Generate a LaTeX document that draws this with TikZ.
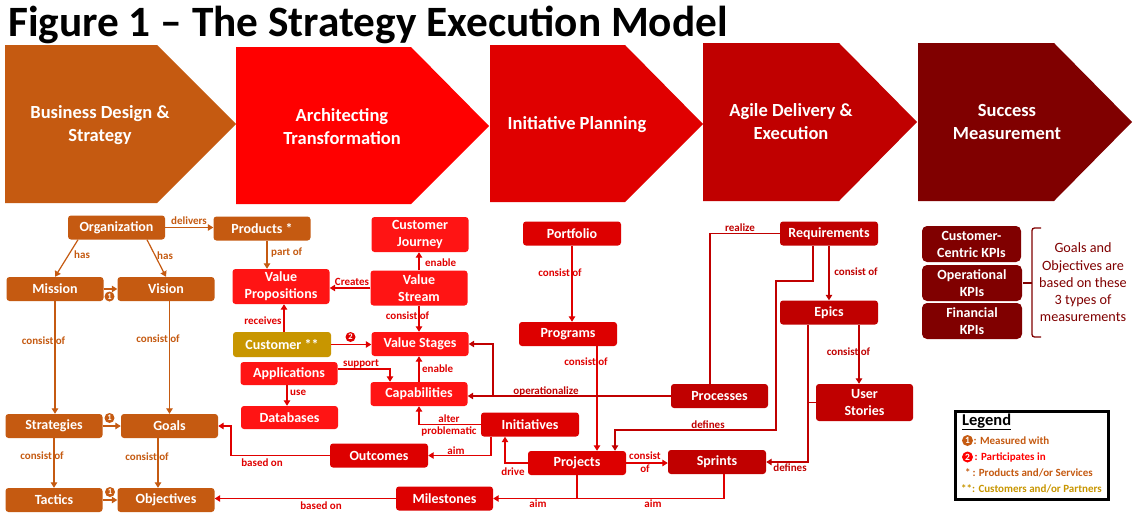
\documentclass[tikz,border=0pt]{standalone}
\usepackage{fontspec}
\setmainfont{Carlito}
\usetikzlibrary{arrows.meta,calc}
\definecolor{cBrown}{HTML}{C55A11}
\definecolor{cRedA}{HTML}{FF1414}
\definecolor{cRedB}{HTML}{DD0000}
\definecolor{cRedC}{HTML}{C00000}
\definecolor{cMaroon}{HTML}{800000}
\definecolor{cGold}{HTML}{C89600}
\definecolor{cLine}{HTML}{E00000}
\definecolor{cChevA}{HTML}{FF0000}
\definecolor{cChevB}{HTML}{E00000}
\begin{document}
\begin{tikzpicture}[x=1pt,y=-1pt,
  box/.style={rounded corners=3pt, text=white, font=\bfseries\fontsize{14}{17}\selectfont,
    align=center, inner sep=0pt, minimum width=97pt, minimum height=24pt},
  tall/.style={minimum height=35pt},
  chevtext/.style={text=white, font=\bfseries\fontsize{18.5}{23}\selectfont, align=center},
  lbl/.style={font=\bfseries\fontsize{11}{12}\selectfont, inner sep=1pt},
  tip/.style={-{Triangle[width=6.5pt,length=5.5pt]}},
  barr/.style={draw=cBrown, line width=1.2pt, tip},
  rarr/.style={draw=cLine, line width=1.2pt, tip},
  rline/.style={draw=cLine, line width=1.2pt},
  darr/.style={draw=cRedC, line width=1.2pt, tip},
  dline/.style={draw=cRedC, line width=1.2pt},
  badge/.style={circle, inner sep=0pt, minimum size=10pt, text=white,
    font=\bfseries\fontsize{8.5}{9}\selectfont},
  lgtext/.style={anchor=west, inner sep=0pt, font=\bfseries\fontsize{11}{12}\selectfont}
]
% canvas
\path[use as bounding box, fill=white] (0,0) rectangle (1142,522);

% title
\node[anchor=base west, inner sep=0pt, font=\bfseries\fontsize{43.3}{46}\selectfont] (title) at (8,36) {Figure 1 – The Strategy Execution Model};

% chevrons
\fill[cBrown] (5,45) -- (157,45) -- (236,124) -- (157,203) -- (5,203) -- cycle;
\fill[cChevA] (236,47) -- (411,47) -- (489,126) -- (411,204) -- (236,204) -- cycle;
\fill[cChevB] (490,45) -- (625,45) -- (703,124) -- (625,202) -- (490,202) -- cycle;
\fill[cRedC] (703,43) -- (839,43) -- (917,122) -- (839,201) -- (703,201) -- cycle;
\fill[cMaroon] (918,43) -- (1054,43) -- (1132,122) -- (1054,201) -- (918,201) -- cycle;
\node[chevtext] (ch1) at (100,125.5) {Business Design \&\\Strategy};
\node[chevtext] (ch2) at (342,127) {Architecting\\Transformation};
\node[chevtext] (ch3) at (577,124.5) {Initiative Planning};
\node[chevtext] (ch4) at (791,122) {Agile Delivery \&\\Execution};
\node[chevtext] (ch5) at (1007,122) {Success\\Measurement};

% brown boxes
\node[box, fill=cBrown] (org) at (116.5,227.5) {Organization};
\node[box, fill=cBrown] (prod) at (262,228.5) {Products *};
\node[box, fill=cBrown] (mis) at (55,289) {Mission};
\node[box, fill=cBrown] (vis) at (166,289) {Vision};
\node[box, fill=cBrown] (str) at (54,426) {Strategies};
\node[box, fill=cBrown] (goa) at (169.5,426) {Goals};
\node[box, fill=cBrown] (tac) at (54,500) {Tactics};
\node[box, fill=cBrown] (obj) at (166,500) {Objectives};

% bright red boxes
\node[box, tall, fill=cRedA] (vp) at (281,286.5) {Value\\Propositions};
\node[box, tall, fill=cRedA] (cj) at (420,234.5) {Customer\\Journey};
\node[box, tall, fill=cRedA] (vstr) at (419,288) {Value\\Stream};
\node[box, fill=cRedA] (vsg) at (420,344) {Value Stages};
\node[box, fill=cRedA] (cap) at (419,394) {Capabilities};
\node[box, fill=cRedA, minimum height=23pt] (app) at (289,373.5) {Applications};
\node[box, fill=cRedA, minimum height=23pt] (db) at (289.5,417.5) {Databases};
\node[box, fill=cGold, minimum width=98pt, minimum height=25pt] (cust) at (282,344.5) {Customer **};

% initiative planning boxes
\node[box, fill=cRedB, minimum width=98pt] (port) at (572,233.5) {Portfolio};
\node[box, fill=cRedB, minimum width=98pt] (prog) at (568,334) {Programs};
\node[box, fill=cRedB, minimum width=98pt] (ini) at (530,424.5) {Initiatives};
\node[box, fill=cRedB, minimum width=98pt] (proj) at (577,463) {Projects};
\node[box, fill=cRedB, minimum width=98pt] (outc) at (379,455.5) {Outcomes};
\node[box, fill=cRedB] (mil) at (444.5,498.5) {Milestones};

% agile boxes
\node[box, fill=cRedC, minimum width=98pt] (req) at (829,233.5) {Requirements};
\node[box, fill=cRedC, minimum width=98pt] (epi) at (829,312.5) {Epics};
\node[box, fill=cRedC, minimum height=37pt] (us) at (864.5,402.5) {User\\Stories};
\node[box, fill=cRedC] (proc) at (719.5,396) {Processes};
\node[box, fill=cRedC, minimum width=98pt] (spr) at (717,462) {Sprints};

% KPI boxes
\node[box, fill=cMaroon, minimum width=99pt, minimum height=36pt, rounded corners=5pt] (k1) at (971.5,244) {Customer-\\Centric KPIs};
\node[box, fill=cMaroon, minimum width=100pt, minimum height=36pt, rounded corners=5pt] (k2) at (972,283) {Operational\\KPIs};
\node[box, fill=cMaroon, minimum width=100pt, minimum height=36pt, rounded corners=5pt] (k3) at (972,321) {Financial\\KPIs};
\draw[cMaroon, line width=1.3pt, rounded corners=2.5pt] (1041,228) -- (1032,228) -- (1032,337) -- (1041,337);
\coordinate (bracetip) at (1023,283);
\draw[cMaroon, line width=1.3pt] (1032,283) -- (bracetip);
\node[text=cMaroon, align=center, font=\fontsize{14.2}{17.2}\selectfont] (kpinote) at (1083,282.5) {Goals and\\Objectives are\\based on these\\3 types of\\measurements};

% ---- brown connectors
\draw[barr] (org.east) -- (org.east -| prod.west);
\node[lbl, text=cBrown] (l1) at (189,221) {delivers};
\draw[barr] (78,0 |- org.south) -- (mis.north);
\node[lbl, text=cBrown, anchor=west] (l2) at (73,255) {has};
\draw[barr] (147,0 |- org.south) -- (vis.north);
\node[lbl, text=cBrown, anchor=west] (l3) at (156,256) {has};
\draw[barr] (mis.east) -- (vis.west);
\node[badge, fill=cBrown] (b1) at (109.5,296.5) {1};
\draw[barr] (mis.south) -- (mis.south |- str.north);
\node[lbl, text=cBrown] (l4) at (43.5,341) {consist of};
\draw[barr] (goa.north |- vis.south) -- (goa.north);
\node[lbl, text=cBrown] (l5) at (158,339) {consist of};
\draw[barr] (str.east) -- (goa.west);
\node[badge, fill=cBrown] (b2) at (109.5,418) {1};
\draw[barr] (str.south) -- (str.south |- tac.north);
\node[lbl, text=cBrown] (l6) at (42,456) {consist of};
\draw[barr] (158,0 |- goa.south) -- (158,0 |- obj.north);
\node[lbl, text=cBrown] (l7) at (147,457) {consist of};
\draw[barr] (tac.east) -- (obj.west);
\node[badge, fill=cBrown] (b3) at (110,492) {1};
\draw[barr] (267,0 |- prod.south) -- (267,0 |- vp.north);
\node[lbl, text=cBrown, anchor=west] (l8) at (270,253) {part of};

% ---- red connectors (architecture / planning)
\draw[rarr] (284,0 |- cust.north) -- (284,0 |- vp.south);
\node[lbl, text=cLine] (l9) at (263,321) {receives};
\draw[rarr] (vstr.west) -- (vstr.west -| vp.east);
\node[lbl, text=cLine] (l10) at (352,282) {Creates};
\draw[rarr] (vstr.north) -- (vstr.north |- cj.south);
\node[lbl, text=cLine, anchor=west] (l11) at (424,263) {enable};
\draw[rarr] (vstr.south) -- (vstr.south |- vsg.north);
\node[lbl, text=cLine] (l12) at (407.5,316) {consist of};
\draw[rarr] (cust.east) -- (cust.east -| vsg.west);
\node[badge, fill=cLine] (b4) at (350.5,337) {2};
\draw[rarr] (cap.north) -- (cap.north |- vsg.south);
\node[lbl, text=cLine, anchor=west] (l13) at (421,369) {enable};
\draw[rarr] (app.east |- 0,369) -| (390,0 |- cap.north);
\node[lbl, text=cLine] (l14) at (361,364) {support};
\draw[rarr] (287,0 |- app.south) -- (287,0 |- db.north);
\node[lbl, text=cLine, anchor=west] (l15) at (289,393) {use};
\draw[rarr] (ini.west) -| (cap.south);
\node[lbl, text=cLine] (l16) at (449,418.5) {alter};
\node[lbl, text=cLine] (l17) at (449,431.5) {problematic};
\draw[rarr] (491,0 |- ini.south) |- (outc.east);
\node[lbl, text=cLine] (l18) at (456,451) {aim};
\draw[rarr] (outc.west) -| (231,0 |- goa.east) -- (goa.east);
\node[lbl, text=cLine] (l19) at (262,463) {based on};
\draw[rarr] (mil.west) -- (mil.west -| obj.east);
\node[lbl, text=cLine] (l20) at (321,506) {based on};
\draw[rarr] (724,0 |- spr.south) |- (mil.east);
\node[lbl, text=cLine] (l21) at (653,504) {aim};
\draw[rline] (577,0 |- proj.south) -- (577,0 |- mil.east);
\node[lbl, text=cLine] (l22) at (538,504) {aim};
\draw[rarr] (proj.west) -| (505,0 |- ini.south);
\node[lbl, text=cLine] (l23) at (513,472) {drive};
\draw[rarr] (port.south) -- (port.south |- prog.north);
\node[lbl, text=cLine] (l24) at (560,273) {consist of};
\draw[rarr] (597,0 |- prog.south) -- (597,0 |- proj.north);
\node[lbl, text=cLine] (l25) at (586,362) {consist of};
\draw[rarr] (proj.east) -- (proj.east -| spr.west);
\node[lbl, text=cLine] (l26) at (645,456) {consist};
\node[lbl, text=cLine] (l27) at (645,468.5) {of};

% ---- dark red connectors (agile)
\draw[darr] (proc.west) -- (proc.west -| cap.east);
\node[lbl, text=cRedC] (l28) at (546,391) {operationalize};
\draw[darr] (493,0 |- proc.west) |- (vsg.east);
\draw[dline] (req.west) -| (710,0 |- proc.north);
\node[lbl, text=cRedC] (l29) at (740,228) {realize};
\coordinate (d1) at (813,281);
\coordinate (d2) at (776,281);
\coordinate (d3) at (776,430);
\draw[darr] (813,0 |- req.south) -- (d1) -- (d2) -- (d3) -| (615,0 |- proj.north);
\node[lbl, text=cRedC] (l30) at (708,424.5) {defines};
\draw[darr] (req.south) -- (req.south |- epi.north);
\node[lbl, text=cRedC] (l31) at (856,272) {consist of};
\draw[darr] (859,0 |- epi.south) -- (859,0 |- us.north);
\node[lbl, text=cRedC] (l32) at (848.5,352) {consist of};
\draw[darr] (808,0 |- epi.south) |- (spr.east);
\draw[dline] (us.west) -- (us.west -| 808,0);
\node[lbl, text=cRedC] (l33) at (790,468) {defines};

% ---- legend
\draw[line width=3pt] (955,411) rectangle (1108,499);
\node[anchor=west, inner sep=0pt, font=\bfseries\fontsize{16.5}{18}\selectfont] (lgtitle) at (962,422) {\underline{Legend}};
\node[badge, fill=cBrown, minimum size=11pt, font=\bfseries\fontsize{9.5}{10}\selectfont] (lb1) at (967.5,440.5) {1};
\node[lgtext, text=cBrown] (lt1) at (973.5,440.5) {: Measured with};
\node[badge, fill=red, minimum size=11pt, font=\bfseries\fontsize{9.5}{10}\selectfont] (lb2) at (967.5,457) {2};
\node[lgtext, text=red] (lt2) at (974.5,457) {: Participates in};
\node[lgtext, text=cBrown] (lt3) at (965,473) {*\,: Products and/or Services};
\node[lgtext, text=cGold] (lt4) at (961,488.5) {**: Customers and/or Partners};
\end{tikzpicture}
\end{document}
